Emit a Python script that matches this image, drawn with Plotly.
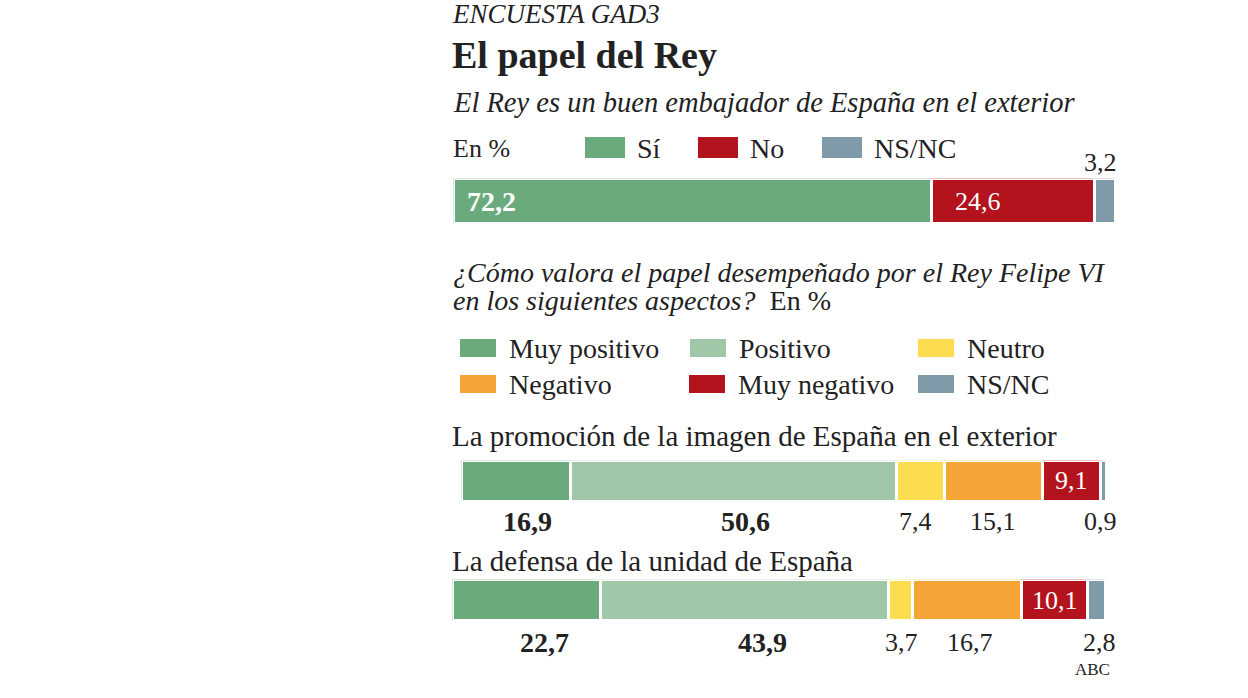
import plotly.graph_objects as go

# ---------------- data ----------------
q1_categories = ["Sí", "No", "NS/NC"]
q1_values = [72.2, 24.6, 3.2]

q2_categories = ["Muy positivo", "Positivo", "Neutro", "Negativo", "Muy negativo", "NS/NC"]
promocion_values = [16.9, 50.6, 7.4, 15.1, 9.1, 0.9]
unidad_values = [22.7, 43.9, 3.7, 16.7, 10.1, 2.8]

q1_colors = ["#6BAA7D", "#B3131C", "#7F9BAA"]
q2_colors = ["#6BAA7D", "#A0C7A7", "#FCDD50", "#F5A535", "#B3131C", "#7F9BAA"]

W, H = 1248, 698
FONT = "Liberation Serif"
DARK = "#222222"


def px(x):
    return x / W


def py(y):
    return 1 - y / H


def fmt(v):
    return f"{v:.1f}".replace(".", ",")


fig = go.Figure()

# bars --------------------------------------------------------------
charts = [
    (q1_categories, q1_values, q1_colors, "x", "y"),
    (q2_categories, promocion_values, q2_colors, "x2", "y2"),
    (q2_categories, unidad_values, q2_colors, "x3", "y3"),
]
for cats, vals, cols, xa, ya in charts:
    for c, v, col in zip(cats, vals, cols):
        fig.add_trace(go.Bar(
            x=[v], y=[0], orientation="h", width=1,
            name=c, marker=dict(color=col, line=dict(color="white", width=3)),
            xaxis=xa, yaxis=ya, showlegend=False, hoverinfo="name+x",
        ))

ann = []
shapes = []


def text(x, y, s, size, bold=False, italic=False, color=DARK, xanchor="left", xref="paper", xshift=0):
    t = f"<b>{s}</b>" if bold else s
    t = f"<i>{t}</i>" if italic else t
    ann.append(dict(x=x, y=y, xref=xref, yref="paper", text=t, showarrow=False,
                    xanchor=xanchor, yanchor="middle", xshift=xshift,
                    font=dict(family=FONT, size=size, color=color)))


# headings
text(px(450), py(14), "ENCUESTA GAD3", 27, italic=True)
text(px(450), py(55), "<b>El papel del Rey</b>", 38)
text(px(451), py(102), "El Rey es un buen embajador de España en el exterior", 28.5, italic=True)

# legend 1
text(px(451), py(148), "En %", 26)
for (x0, label, col) in [(585, "Sí", q1_colors[0]), (698, "No", q1_colors[1]), (822, "NS/NC", q1_colors[2])]:
    shapes.append(dict(type="rect", xref="paper", yref="paper", x0=px(x0), x1=px(x0 + 40),
                       y0=py(158), y1=py(137), fillcolor=col, line=dict(width=0)))
    text(px(x0 + 50), py(148), label, 28)

# q1 value labels
cum = [sum(q1_values[:i]) for i in range(len(q1_values))]
text(cum[0], py(201), fmt(q1_values[0]), 28, bold=True, color="white", xref="x", xshift=11)
text(cum[1], py(201), fmt(q1_values[1]), 26, color="white", xref="x", xshift=22)
text(100, py(162), fmt(q1_values[2]), 26, xref="x", xanchor="right", xshift=3)

# question 2
text(px(451), py(272), "¿Cómo valora el papel desempeñado por el Rey Felipe VI", 28, italic=True)
text(px(451), py(300), "<i>en los siguientes aspectos?</i>  En %", 28)

# legend 2
leg2 = [
    (460, 348, 0), (690, 348, 1), (918, 348, 2),
    (460, 384, 3), (689, 384, 4), (918, 384, 5),
]
for x0, yc, k in leg2:
    shapes.append(dict(type="rect", xref="paper", yref="paper", x0=px(x0), x1=px(x0 + 36),
                       y0=py(yc + 9), y1=py(yc - 9), fillcolor=q2_colors[k], line=dict(width=0)))
    text(px(x0 + 47), py(yc), q2_categories[k], 28)

text(px(450), py(436), "La promoción de la imagen de España en el exterior", 29)
text(px(450), py(561), "La defensa de la unidad de España", 29)


def below_labels(vals, xref, ylab, inside_idx, ybar, shifts):
    c = 0
    for i, v in enumerate(vals):
        mid = c + v / 2
        if i == inside_idx:
            text(mid, py(ybar), fmt(v), 26, color="white", xref=xref, xanchor="center")
        elif i == len(vals) - 1:
            text(sum(vals), py(ylab), fmt(v), 26, xref=xref, xanchor="right", xshift=12)
        else:
            text(mid, py(ylab), fmt(v), 28 if i < 2 else 26, bold=(i < 2), xref=xref,
                 xanchor="center", xshift=shifts[i])
        c += v


below_labels(promocion_values, "x2", 521, 4, 481, [11, 12, -5, 0])
below_labels(unidad_values, "x3", 642, 4, 600, [18, 18, 1, 3])

text(px(1112), py(669), "ABC", 17, xanchor="right")

axis_common = dict(visible=False, fixedrange=True)
fig.update_layout(
    width=W, height=H, margin=dict(l=0, r=0, t=0, b=0),
    paper_bgcolor="white", plot_bgcolor="white",
    barmode="stack", bargap=0, showlegend=False,
    xaxis=dict(domain=[px(453.5), px(1115.5)], range=[0, 100], anchor="y", **axis_common),
    yaxis=dict(domain=[py(223.5), py(178.5)], range=[-0.5, 0.5], anchor="x", **axis_common),
    xaxis2=dict(domain=[px(461.5), px(1106.5)], range=[0, 100], anchor="y2", **axis_common),
    yaxis2=dict(domain=[py(501.5), py(460.5)], range=[-0.5, 0.5], anchor="x2", **axis_common),
    xaxis3=dict(domain=[px(452.5), px(1106.5)], range=[0, 100], anchor="y3", **axis_common),
    yaxis3=dict(domain=[py(620.5), py(579.5)], range=[-0.5, 0.5], anchor="x3", **axis_common),
    annotations=ann, shapes=shapes,
)

fig.write_html("out.html", config={"displayModeBar": False},
               post_script="document.body.style.margin='0';")
